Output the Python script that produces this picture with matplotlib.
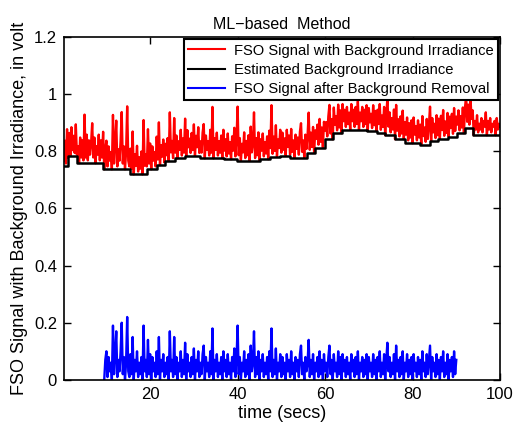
import numpy as np
import matplotlib
matplotlib.use('Agg')
import matplotlib.pyplot as plt

plt.rcParams['font.family'] = ['Liberation Sans', 'DejaVu Sans']

# Time axis of the signal (secs), one sample every 0.25 s
t_step = 0.25
n_samples = 400

# Detected FSO signal (volt) after background removal
signal = [
    0.02, 0.09, 0.01, 0.13, 0.03, 0.08, 0.00, 0.10, 0.02, 0.07, 0.01, 0.11, 0.03, 0.06, 0.00, 0.09, 0.02, 0.08, 0.01, 0.17,
    0.02, 0.10, 0.01, 0.08, 0.03, 0.07, 0.14, 0.02, 0.09, 0.00, 0.06, 0.03, 0.10, 0.01, 0.08, 0.02, 0.11, 0.00, 0.07, 0.10,
    0.01, 0.08, 0.03, 0.06, 0.00, 0.19, 0.02, 0.09, 0.17, 0.01, 0.07, 0.03, 0.10, 0.20, 0.02, 0.08, 0.00, 0.06, 0.22, 0.03,
    0.01, 0.09, 0.02, 0.15, 0.00, 0.07, 0.03, 0.10, 0.01, 0.06, 0.02, 0.08, 0.00, 0.19, 0.03, 0.07, 0.01, 0.14, 0.02, 0.09,
    0.00, 0.08, 0.03, 0.06, 0.01, 0.10, 0.02, 0.15, 0.00, 0.07, 0.03, 0.09, 0.01, 0.06, 0.02, 0.08, 0.00, 0.17, 0.03, 0.07,
    0.01, 0.15, 0.02, 0.08, 0.00, 0.06, 0.03, 0.10, 0.01, 0.07, 0.02, 0.13, 0.00, 0.09, 0.03, 0.06, 0.01, 0.08, 0.02, 0.11,
    0.00, 0.07, 0.03, 0.10, 0.01, 0.06, 0.02, 0.09, 0.12, 0.00, 0.08, 0.03, 0.06, 0.01, 0.10, 0.02, 0.18, 0.00, 0.07, 0.03,
    0.09, 0.01, 0.06, 0.02, 0.08, 0.00, 0.10, 0.03, 0.07, 0.01, 0.09, 0.02, 0.06, 0.00, 0.08, 0.03, 0.11, 0.01, 0.07, 0.19,
    0.02, 0.08, 0.00, 0.06, 0.03, 0.10, 0.01, 0.07, 0.02, 0.09, 0.00, 0.12, 0.03, 0.06, 0.17, 0.01, 0.08, 0.02, 0.10, 0.00,
    0.07, 0.03, 0.09, 0.01, 0.06, 0.02, 0.08, 0.00, 0.10, 0.03, 0.18, 0.01, 0.07, 0.02, 0.11, 0.00, 0.06, 0.03, 0.09, 0.01,
    0.08, 0.02, 0.06, 0.00, 0.09, 0.03, 0.07, 0.01, 0.10, 0.02, 0.06, 0.00, 0.08, 0.03, 0.07, 0.01, 0.09, 0.12, 0.02, 0.06,
    0.00, 0.08, 0.03, 0.06, 0.14, 0.01, 0.07, 0.02, 0.09, 0.00, 0.06, 0.03, 0.08, 0.01, 0.10, 0.02, 0.07, 0.00, 0.09, 0.03,
    0.06, 0.01, 0.08, 0.12, 0.02, 0.07, 0.00, 0.09, 0.03, 0.06, 0.01, 0.10, 0.02, 0.08, 0.00, 0.09, 0.03, 0.07, 0.01, 0.08,
    0.02, 0.06, 0.00, 0.09, 0.03, 0.07, 0.01, 0.08, 0.02, 0.10, 0.00, 0.06, 0.03, 0.08, 0.01, 0.07, 0.02, 0.09, 0.00, 0.08,
    0.03, 0.06, 0.01, 0.09, 0.02, 0.07, 0.00, 0.08, 0.03, 0.10, 0.01, 0.06, 0.02, 0.09, 0.00, 0.07, 0.13, 0.03, 0.08, 0.01,
    0.06, 0.02, 0.09, 0.00, 0.12, 0.03, 0.07, 0.01, 0.08, 0.02, 0.10, 0.00, 0.06, 0.03, 0.09, 0.01, 0.07, 0.02, 0.08, 0.00,
    0.09, 0.03, 0.06, 0.01, 0.08, 0.02, 0.07, 0.00, 0.10, 0.03, 0.06, 0.01, 0.09, 0.02, 0.07, 0.12, 0.00, 0.08, 0.03, 0.06,
    0.01, 0.09, 0.02, 0.07, 0.00, 0.08, 0.03, 0.10, 0.01, 0.06, 0.02, 0.09, 0.00, 0.07, 0.03, 0.08, 0.01, 0.10, 0.02, 0.07,
    0.03, 0.08, 0.01, 0.06, 0.02, 0.09, 0.00, 0.07, 0.11, 0.02, 0.08, 0.01, 0.10, 0.03, 0.06, 0.00, 0.05, 0.02, 0.07, 0.01,
    0.04, 0.02, 0.06, 0.01, 0.05, 0.03, 0.08, 0.00, 0.05, 0.02, 0.06, 0.01, 0.04, 0.03, 0.05, 0.00, 0.06, 0.02, 0.04, 0.03,
]

# Estimated background irradiance: step start times (secs) and levels (volt)
bg_times = [0.0, 1.3, 3.2, 9.3, 15.4, 19.2, 21.5, 23.4, 25.7, 28.0, 31.4, 36.8, 39.8, 45.1, 47.4,
            49.7, 52.0, 55.8, 57.7, 60.0, 61.9, 63.8, 69.5, 71.8, 73.7, 76.0, 78.3, 81.7, 84.0,
            85.9, 88.2, 90.1, 92.0, 93.9]
bg_levels = [0.747, 0.784, 0.758, 0.737, 0.719, 0.737, 0.751, 0.766, 0.775, 0.784, 0.775, 0.772, 0.766, 0.772, 0.781,
             0.785, 0.778, 0.795, 0.813, 0.842, 0.863, 0.875, 0.871, 0.865, 0.856, 0.842, 0.828, 0.823, 0.836,
             0.844, 0.851, 0.863, 0.883, 0.856]

# Window where the background-removed signal is shown
removal_start = 9.5
removal_end = 90.0

legend_labels = ['FSO Signal with Background Irradiance',
                 'Estimated Background Irradiance',
                 'FSO Signal after Background Removal']

t = t_step * np.arange(1, n_samples + 1)
sig = np.array(signal)
idx = np.searchsorted(bg_times, t, side='right') - 1
background = np.array(bg_levels)[idx]
received = background + sig
mask = (t >= removal_start) & (t <= removal_end)

fig = plt.figure(figsize=(5.16, 4.24), dpi=100)
ax = fig.add_axes([0.124, 0.104, 0.845, 0.809])

ax.plot(t, received, color='#ff0000', lw=1.7, label=legend_labels[0])
ax.plot(np.append(bg_times, 100.0), np.append(bg_levels, bg_levels[-1]),
        drawstyle='steps-post', color='black', lw=1.8, label=legend_labels[1])
ax.plot(t[mask], sig[mask], color='#0000ff', lw=1.7, label=legend_labels[2])

ax.set_xlim(0.3, 100)
ax.set_ylim(0, 1.2)
ax.set_xticks([20, 40, 60, 80, 100])
ax.set_yticks([0, 0.2, 0.4, 0.6, 0.8, 1.0, 1.2])
ax.set_yticklabels(['0', '0.2', '0.4', '0.6', '0.8', '1', '1.2'])
ax.tick_params(direction='in', length=5, width=1, top=True, right=True, labelsize=12, pad=5)
for s in ax.spines.values():
    s.set_linewidth(1.2)

ax.set_xlabel('time (secs)', fontsize=13, labelpad=2)
ax.set_ylabel('FSO Signal with Background Irradiance, in volt', fontsize=13, labelpad=4)
ax.set_title('ML\u2212based  Method', fontsize=11.5, pad=6)

leg = ax.legend(loc='upper right', fontsize=10.6, frameon=True, fancybox=False,
                borderaxespad=0.15, borderpad=0.3, labelspacing=0.35,
                handlelength=2.5, handletextpad=0.6)
leg.get_frame().set_edgecolor('black')
leg.get_frame().set_linewidth(1.5)
leg.get_frame().set_alpha(1)
for line in leg.get_lines():
    line.set_linewidth(1.5)

plt.savefig('out.png', dpi=100)
plt.close()
